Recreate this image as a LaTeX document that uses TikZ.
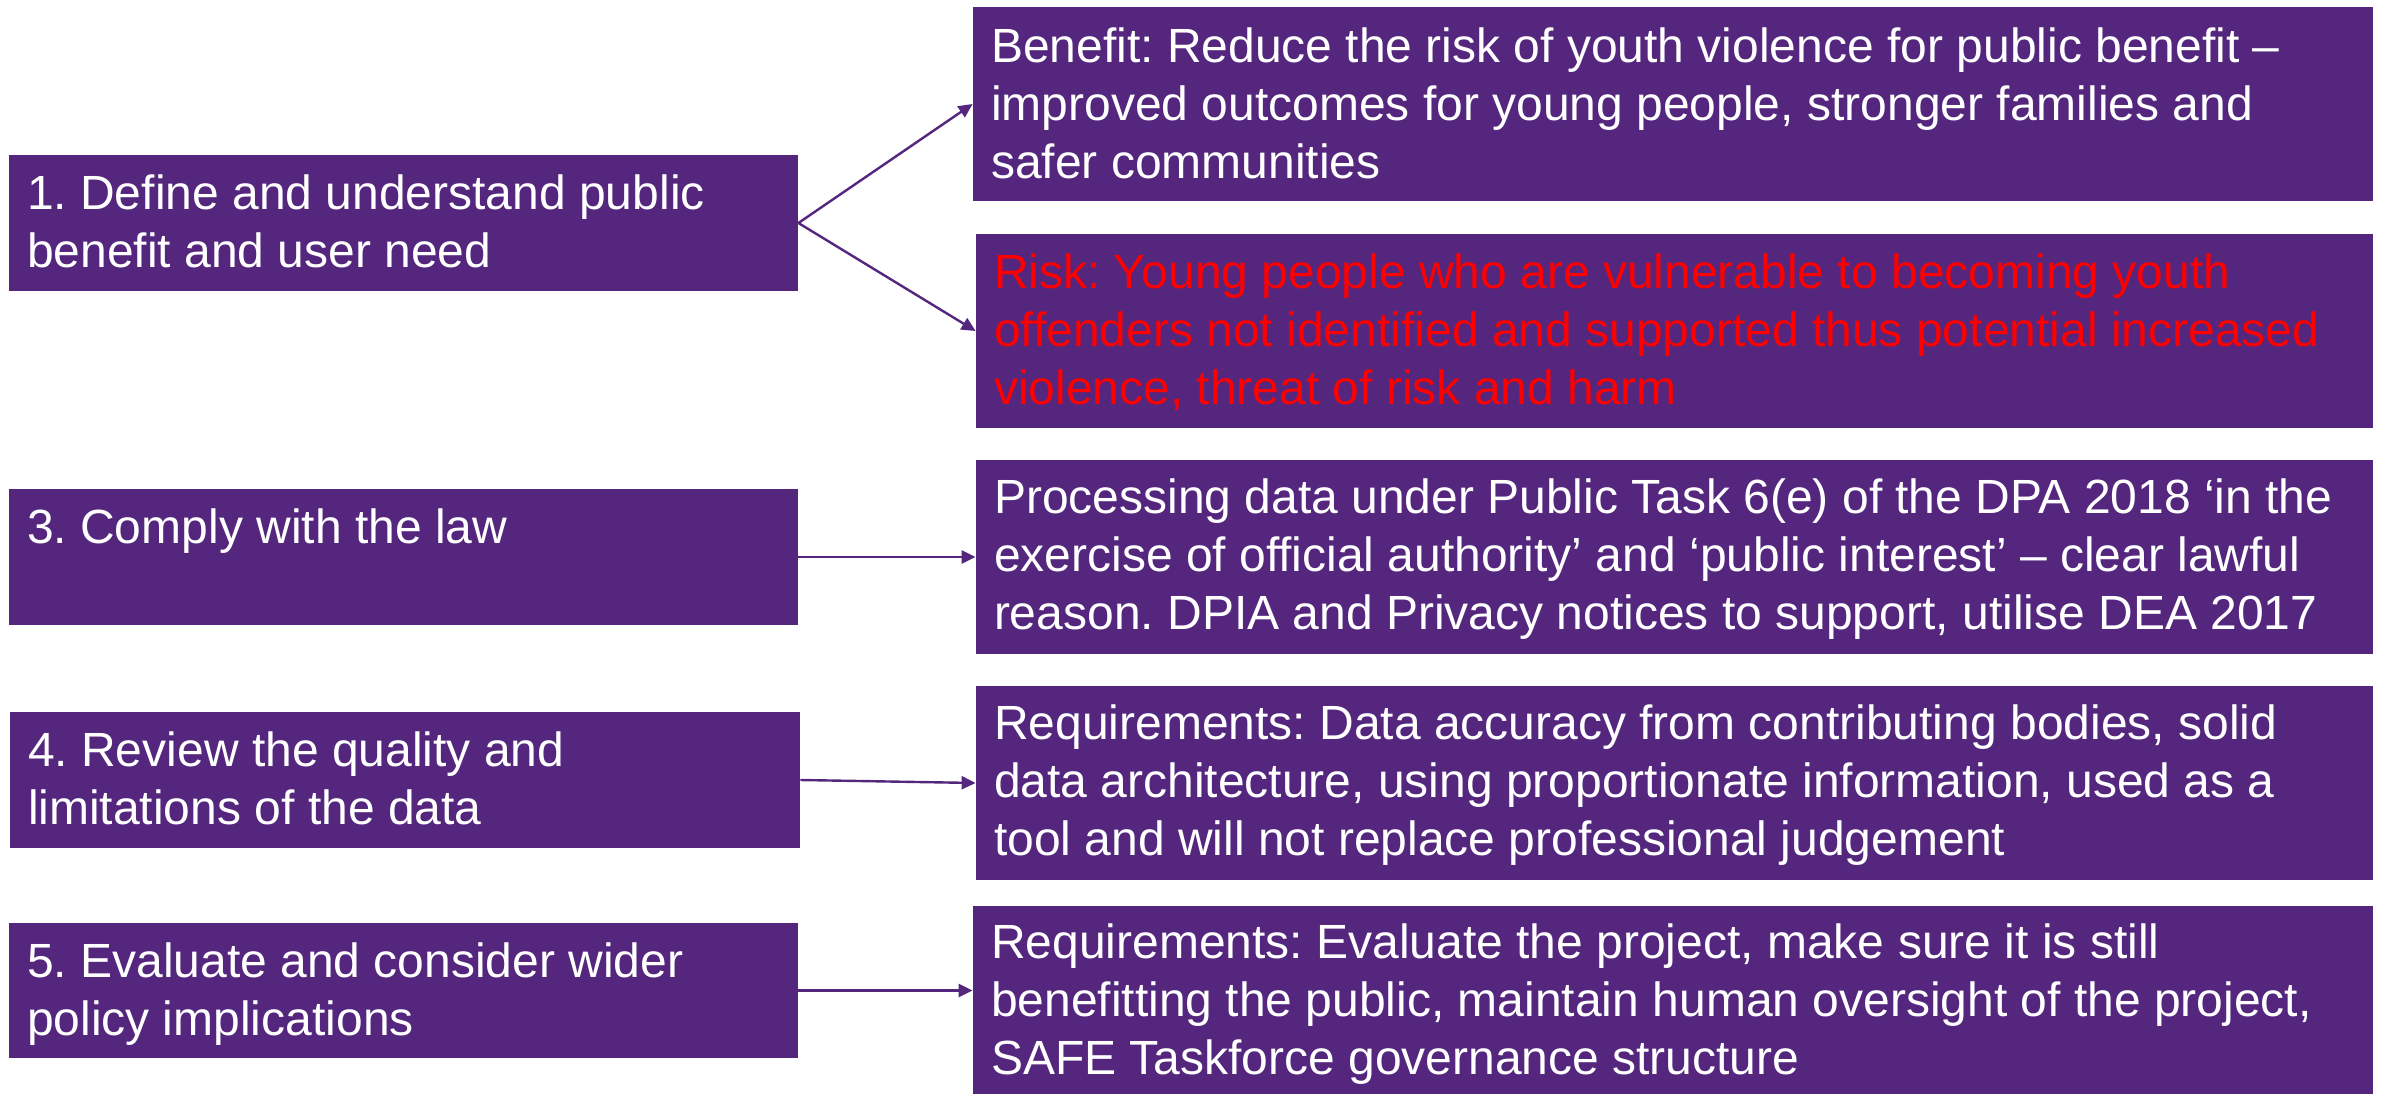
\documentclass[tikz,border=0pt]{standalone}
\usepackage{fontspec}
\setmainfont{Liberation Sans}
\usetikzlibrary{arrows.meta,fit,calc}
\definecolor{boxpurple}{HTML}{54267E}
\definecolor{riskred}{HTML}{FF0000}
\frenchspacing
\newcommand{\Lns}[1]{\vtop{\baselineskip=29pt\lineskiplimit=-100pt\lineskip=0pt #1}}
\begin{document}
\begin{tikzpicture}[x=0.5pt,y=-0.5pt,
  box/.style={fill=boxpurple,draw=none,inner sep=0pt},
  txt/.style={anchor=base west,inner sep=0pt,text=white,font=\fontsize{24pt}{29pt}\selectfont\frenchspacing},
  conn/.style={draw=boxpurple,line width=1.2pt,-{Triangle[length=7pt,width=6.5pt]}}]
\useasboundingbox (0,0) rectangle (2381,1096);
% left boxes
\node[box,fit={(9,155)(798,291)}] (b1) {};
\node[box,fit={(9,489)(798,625)}] (b3) {};
\node[box,fit={(10,712)(800,848)}] (b4) {};
\node[box,fit={(9,923)(798,1058)}] (b5) {};
% right boxes
\node[box,fit={(973,7)(2373,201)}] (r1) {};
\node[box,fit={(976,234)(2373,428)}] (r2) {};
\node[box,fit={(976,460)(2373,654)}] (r3) {};
\node[box,fit={(976,686)(2373,880)}] (r4) {};
\node[box,fit={(973,906)(2373,1094)}] (r5) {};
% texts
\node[txt] (tb1) at ($(b1.north west)+(18,55)$) {\Lns{\hbox{1. Define and understand public}\hbox{benefit and user need}}};
\node[txt] (tb3) at ($(b3.north west)+(18,55)$) {\Lns{\hbox{3. Comply with the law}}};
\node[txt] (tb4) at ($(b4.north west)+(18,55)$) {\Lns{\hbox{4. Review the quality and}\hbox{limitations of the data}}};
\node[txt] (tb5) at ($(b5.north west)+(18,55)$) {\Lns{\hbox{5. Evaluate and consider wider}\hbox{policy implications}}};
\node[txt] (tr1) at ($(r1.north west)+(18,56)$) {\Lns{\hbox{Benefit: Reduce the risk of youth violence for public benefit –}\hbox{improved outcomes for young people, stronger families and}\hbox{safer communities}}};
\node[txt,text=riskred] (tr2) at ($(r2.north west)+(18,55)$) {\Lns{\hbox{Risk: Young people who are vulnerable to becoming youth}\hbox{offenders not identified and supported thus potential increased}\hbox{violence, threat of risk and harm}}};
\node[txt] (tr3) at ($(r3.north west)+(18,54)$) {\Lns{\hbox{Processing data under Public Task 6(e) of the DPA 2018 ‘in the}\hbox{exercise of official authority’ and ‘public interest’ – clear lawful}\hbox{reason. DPIA and Privacy notices to support, utilise DEA 2017}}};
\node[txt] (tr4) at ($(r4.north west)+(18,54)$) {\Lns{\hbox{Requirements: Data accuracy from contributing bodies, solid}\hbox{data architecture, using proportionate information, used as a}\hbox{tool and will not replace professional judgement}}};
\node[txt] (tr5) at ($(r5.north west)+(18,53)$) {\Lns{\hbox{Requirements: Evaluate the project, make sure it is still}\hbox{benefitting the public, maintain human oversight of the project,}\hbox{SAFE Taskforce governance structure}}};
% connectors
\draw[conn] (b1.east) -- (r1.west);
\draw[conn] (b1.east) -- (r2.west);
\draw[conn] (b3.east) -- (r3.west);
\draw[conn] (b4.east) -- (r4.west);
\draw[conn] (b5.east) -- (b5.east -| r5.west);
\end{tikzpicture}
\end{document}
